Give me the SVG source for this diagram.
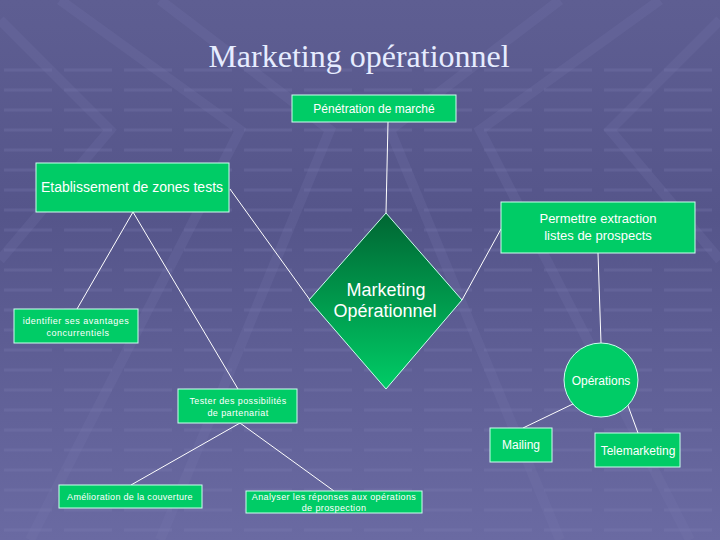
<svg xmlns="http://www.w3.org/2000/svg" width="720" height="540" viewBox="0 0 720 540">
<defs>
<linearGradient id="bg" x1="0" y1="0" x2="0" y2="1"><stop offset="0" stop-color="#5e5e92"/><stop offset="0.4" stop-color="#55558a"/><stop offset="1" stop-color="#6a6aa2"/></linearGradient>
<linearGradient id="dg" x1="0" y1="0" x2="0" y2="1"><stop offset="0" stop-color="#006633"/><stop offset="1" stop-color="#00cc66"/></linearGradient>
<pattern id="grid" width="60" height="20" patternUnits="userSpaceOnUse"><line x1="4" y1="10" x2="52" y2="10" stroke="#8080b4" stroke-width="3" opacity="0.25"/></pattern>
</defs>
<style>
.box{fill:#00cc66;stroke:#ccffee;stroke-width:1}
.t{font-family:"Liberation Sans",Arial,sans-serif;fill:#ffffff;text-anchor:middle}
.c{stroke:#ffffff;stroke-width:1;fill:none}
</style>
<rect width="720" height="540" fill="url(#bg)"/>
<rect y="60" width="720" height="480" fill="url(#grid)"/>
<g stroke="#7a7ab0" stroke-width="10" opacity="0.2" fill="none">
<path d="M0 20 L110 130 L0 260"/><path d="M60 0 L240 130 L30 540"/><path d="M160 0 L330 130 L160 540"/>
<path d="M720 20 L610 130 L720 260"/><path d="M660 0 L480 130 L690 540"/><path d="M560 0 L390 130 L560 540"/>
</g>
<text x="359" y="67" font-family="Liberation Serif,serif" font-size="32" fill="#e6ecff" text-anchor="middle">Marketing opérationnel</text>
<g id="connectors" class="c">
<line x1="388" y1="122" x2="386" y2="213"/>
<line x1="230" y1="189" x2="310" y2="300"/>
<line x1="133" y1="212" x2="77" y2="309"/>
<line x1="133" y1="212" x2="238" y2="389"/>
<line x1="462" y1="300" x2="501" y2="229"/>
<line x1="598" y1="253" x2="601" y2="343"/>
<line x1="240" y1="423" x2="131" y2="485"/>
<line x1="240" y1="423" x2="334" y2="491"/>
<line x1="575" y1="403" x2="523" y2="428"/>
<line x1="627" y1="403" x2="638" y2="433"/>
</g>
<g id="penetration"><rect class="box" x="292" y="95" width="164" height="27"/><text class="t" x="374" y="113" font-size="12">Pénétration de marché</text></g>
<g id="etablissement"><rect class="box" x="36" y="163" width="193" height="49"/><text class="t" x="132" y="192" font-size="14">Etablissement de zones tests</text></g>
<g id="permettre"><rect class="box" x="501" y="202" width="194" height="51"/><text class="t" x="598" y="223" font-size="13">Permettre extraction</text><text class="t" x="598" y="240" font-size="13">listes de prospects</text></g>
<g id="marketing"><polygon points="386,213 462,300 386,389 309,300" fill="url(#dg)" stroke="#ccffee" stroke-width="1"/><text class="t" x="386" y="296" font-size="18">Marketing</text><text class="t" x="385" y="317" font-size="18">Opérationnel</text></g>
<g id="identifier"><rect class="box" x="14" y="309" width="124" height="34"/><text class="t" x="76" y="324" font-size="9" letter-spacing="0.5">identifier ses avantages</text><text class="t" x="78" y="336" font-size="9" letter-spacing="0.5">concurrentiels</text></g>
<g id="operations"><ellipse cx="601" cy="380" rx="37" ry="37" fill="#00cc66" stroke="#ccffee"/><text class="t" x="601" y="385" font-size="12">Opérations</text></g>
<g id="tester"><rect class="box" x="178" y="389" width="119" height="34"/><text class="t" x="238" y="404" font-size="9" letter-spacing="0.4">Tester des possibilités</text><text class="t" x="238" y="416" font-size="9" letter-spacing="0.4">de partenariat</text></g>
<g id="mailing"><rect class="box" x="490" y="428" width="62" height="34"/><text class="t" x="521" y="449" font-size="12">Mailing</text></g>
<g id="telemarketing"><rect class="box" x="595" y="433" width="85" height="34"/><text class="t" x="638" y="455" font-size="12">Telemarketing</text></g>
<g id="amelioration"><rect class="box" x="59" y="485" width="143" height="23"/><text class="t" x="130" y="500" font-size="9" letter-spacing="0.3">Amélioration de la couverture</text></g>
<g id="analyser"><rect class="box" x="246" y="491" width="176" height="22"/><text class="t" x="334" y="500" font-size="9" letter-spacing="0.4">Analyser les réponses aux opérations</text><text class="t" x="334" y="511" font-size="9" letter-spacing="0.4">de prospection</text></g>
</svg>
